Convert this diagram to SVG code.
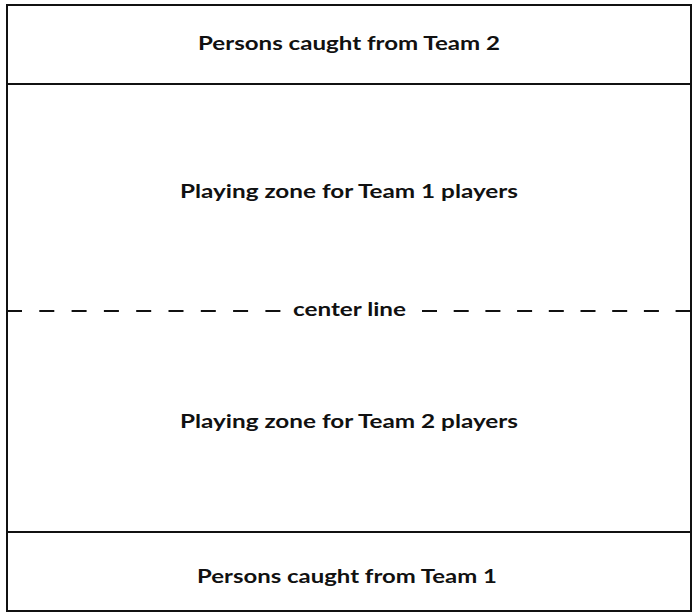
<svg xmlns="http://www.w3.org/2000/svg" width="694" height="613" viewBox="0 0 694 613">
<style>
.t{font-family:Lato,"Open Sans","Liberation Sans",sans-serif;font-weight:bold;font-size:19px;fill:#111;text-anchor:middle}
.b{fill:none;stroke:#111;stroke-width:2}
</style>
<rect width="694" height="613" fill="#fff"/>
<g id="court">
<rect class="b" x="7" y="5" width="684" height="606"/>
</g>
<g id="connectors">
<line class="b" x1="7" y1="84" x2="691" y2="84"/>
<line class="b" x1="7" y1="532" x2="691" y2="532"/>
<line class="b" x1="7" y1="311" x2="282" y2="311" stroke-dasharray="15 17.3"/>
<line class="b" x1="422" y1="311" x2="691" y2="311" stroke-dasharray="15 16.7"/>
</g>
<g id="caught2"><text class="t" x="349" y="50" textLength="302" lengthAdjust="spacingAndGlyphs">Persons caught from Team 2</text></g>
<g id="zone1"><text class="t" x="349" y="198" textLength="338" lengthAdjust="spacingAndGlyphs">Playing zone for Team 1 players</text></g>
<g id="center"><text class="t" x="349.5" y="316" textLength="113" lengthAdjust="spacingAndGlyphs">center line</text></g>
<g id="zone2"><text class="t" x="349" y="428" textLength="338" lengthAdjust="spacingAndGlyphs">Playing zone for Team 2 players</text></g>
<g id="caught1"><text class="t" x="347" y="583" textLength="300" lengthAdjust="spacingAndGlyphs">Persons caught from Team 1</text></g>
</svg>
